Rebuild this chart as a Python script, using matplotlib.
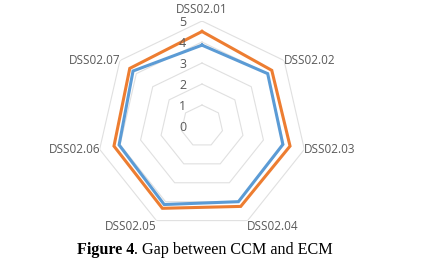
import numpy as np
import matplotlib.pyplot as plt

# radar chart: gap between CCM and ECM
categories = ['DSS02.01', 'DSS02.02', 'DSS02.03', 'DSS02.04',
              'DSS02.05', 'DSS02.06', 'DSS02.07']
ccm = [3.85, 4.0, 3.95, 4.0, 4.15, 4.05, 4.2]
ecm = [4.5, 4.25, 4.3, 4.25, 4.35, 4.3, 4.4]
ticks = [0, 1, 2, 3, 4, 5]

n = len(categories)
angles = np.linspace(0, 2 * np.pi, n, endpoint=False)
closed = np.append(angles, angles[0])

fig = plt.figure(figsize=(4.32, 2.67), dpi=100)
ax = fig.add_axes([97 / 432, 1 - 231 / 267, 210 / 432, 210 / 267], polar=True)
ax.set_theta_zero_location('N')
ax.set_theta_direction(-1)
ax.set_ylim(0, 5)
ax.grid(False)
ax.spines['polar'].set_visible(False)
ax.set_xticks([])
ax.set_yticks([])
ax.patch.set_alpha(0)

# heptagon grid
for t in ticks[1:]:
    ax.plot(closed, [t] * (n + 1), color='#e0e0e0', lw=0.8, zorder=1)

ax.plot(closed, ccm + ccm[:1], color='#5b9bd5', lw=2.2, zorder=3,
        solid_joinstyle='miter')
ax.plot(closed, ecm + ecm[:1], color='#ed7d31', lw=2.2, zorder=3,
        solid_joinstyle='miter')

# value labels left of the vertical axis
for t in ticks:
    ax.annotate(str(t), xy=(0, t), xytext=(-14, -1), textcoords='offset points',
                ha='center', va='center', fontsize=9, color='#595959',
                family='Open Sans')

# category labels
for a, lab in zip(angles, categories):
    deg = np.degrees(a)
    if deg < 1:
        ha, va, r = 'center', 'baseline', 5.38
    elif deg < 120:
        ha, va, r = 'left', 'center', 4.98
    elif deg < 180:
        ha, va, r = 'left', 'top', 4.95
    elif deg < 240:
        ha, va, r = 'right', 'top', 4.95
    else:
        ha, va, r = 'right', 'center', 4.98
    ax.text(a, r, lab, ha=ha, va=va, fontsize=8.5, color='#595959',
            family='Open Sans')

split = 134 / 432
fig.text(split, 1 - 250 / 267, 'Figure 4', ha='right', va='center',
         fontsize=11.6, fontweight='bold', family='Liberation Serif')
fig.text(split, 1 - 250 / 267, '. Gap between CCM and ECM', ha='left',
         va='center', fontsize=11.6, family='Liberation Serif')

fig.savefig('out.png', dpi=100)
